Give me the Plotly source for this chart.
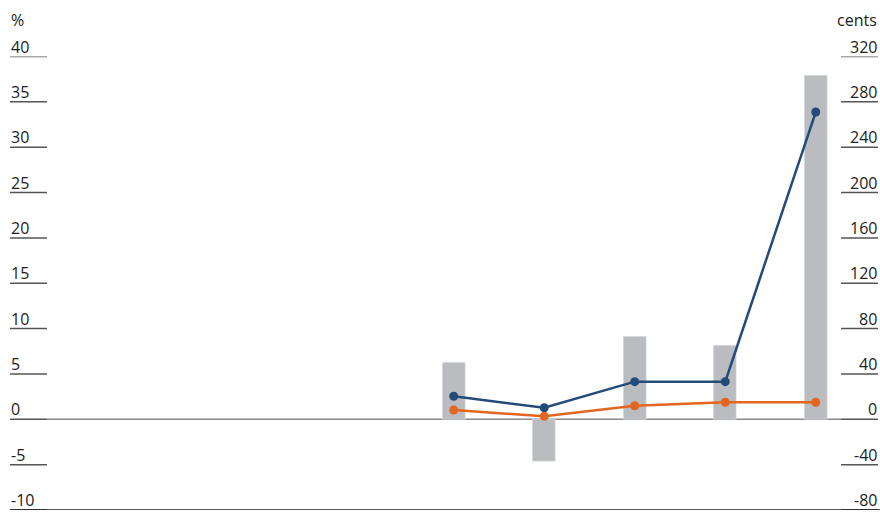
import plotly.graph_objects as go

W, H = 880, 512

categories = list(range(9))
bar_pct = [None, None, None, None, 6.3, -4.6, 9.1, 8.1, 37.9]
blue_cents = [None, None, None, None, 20.3, 10.2, 33.2, 33.2, 271.0]
orange_cents = [None, None, None, None, 8.2, 2.6, 12.0, 15.0, 15.0]

left_ticks = [-10, -5, 0, 5, 10, 15, 20, 25, 30, 35, 40]
right_ticks = [-80, -40, 0, 40, 80, 120, 160, 200, 240, 280, 320]

BAR = "#bbbcc0"
BLUE = "#234b79"
ORANGE = "#e2661f"
FONT = "Open Sans"

fig = go.Figure()
fig.add_trace(go.Bar(x=categories, y=bar_pct, marker_color=BAR, width=0.255,
                     yaxis="y", showlegend=False))
fig.add_trace(go.Scatter(x=categories, y=blue_cents, mode="lines+markers",
                         line=dict(color=BLUE, width=2.5), marker=dict(size=9, color=BLUE),
                         yaxis="y2", showlegend=False))
fig.add_trace(go.Scatter(x=categories, y=orange_cents, mode="lines+markers",
                         line=dict(color=ORANGE, width=2.5), marker=dict(size=9, color=ORANGE),
                         yaxis="y2", showlegend=False))

x0p, x1p = 46.5 / W, 861 / W
ybot, ytop = 2 / H, (H - 56.5) / H

shapes = []
annotations = []
for v in left_ticks:
    shapes.append(dict(type="line", xref="paper", yref="y", x0=10 / W, x1=47 / W, y0=v, y1=v,
                       line=dict(color="#555" if v != -10 else "#222", width=1.5)))
    annotations.append(dict(xref="paper", yref="y", x=9 / W, y=v, text=str(v), showarrow=False,
                            xanchor="left", yanchor="bottom", yshift=-3,
                            font=dict(family=FONT, size=16, color="#222")))
for v in right_ticks:
    shapes.append(dict(type="line", xref="paper", yref="y2", x0=841 / W, x1=878 / W, y0=v, y1=v,
                       line=dict(color="#555" if v != -80 else "#222", width=1.5)))
    annotations.append(dict(xref="paper", yref="y2", x=879 / W, y=v, text=str(v), showarrow=False,
                            xanchor="right", yanchor="bottom", yshift=-3,
                            font=dict(family=FONT, size=16, color="#222")))

shapes.append(dict(type="line", xref="paper", yref="y", x0=47 / W, x1=841 / W, y0=0, y1=0,
                   line=dict(color="#8a8a8a", width=1.5), layer="below"))
shapes.append(dict(type="line", xref="paper", yref="y", x0=10 / W, x1=1, y0=-10, y1=-10,
                   line=dict(color="#222", width=1.5)))

annotations.append(dict(xref="paper", yref="paper", x=9 / W, y=(H - 20) / H, text="%",
                        showarrow=False, xanchor="left", yanchor="middle",
                        font=dict(family=FONT, size=16, color="#222")))
annotations.append(dict(xref="paper", yref="paper", x=879 / W, y=(H - 20) / H, text="cents",
                        showarrow=False, xanchor="right", yanchor="middle",
                        font=dict(family=FONT, size=16, color="#222")))

fig.update_layout(
    width=W, height=H, margin=dict(l=0, r=0, t=0, b=0),
    paper_bgcolor="white", plot_bgcolor="white",
    xaxis=dict(domain=[x0p, x1p], range=[-0.5, 8.5], showticklabels=False, showgrid=False,
               zeroline=False, showline=False, ticks=""),
    yaxis=dict(domain=[ybot, ytop], range=[-10, 40], showticklabels=False, showgrid=False,
               zeroline=False, showline=False, ticks=""),
    yaxis2=dict(overlaying="y", side="right", range=[-80, 320], showticklabels=False,
                showgrid=False, zeroline=False, showline=False, ticks=""),
    shapes=shapes, annotations=annotations, bargap=0,
)
fig.write_html("out.html", config={"displayModeBar": False},
               post_script="document.body.style.margin='0';document.body.style.overflow='hidden';")
